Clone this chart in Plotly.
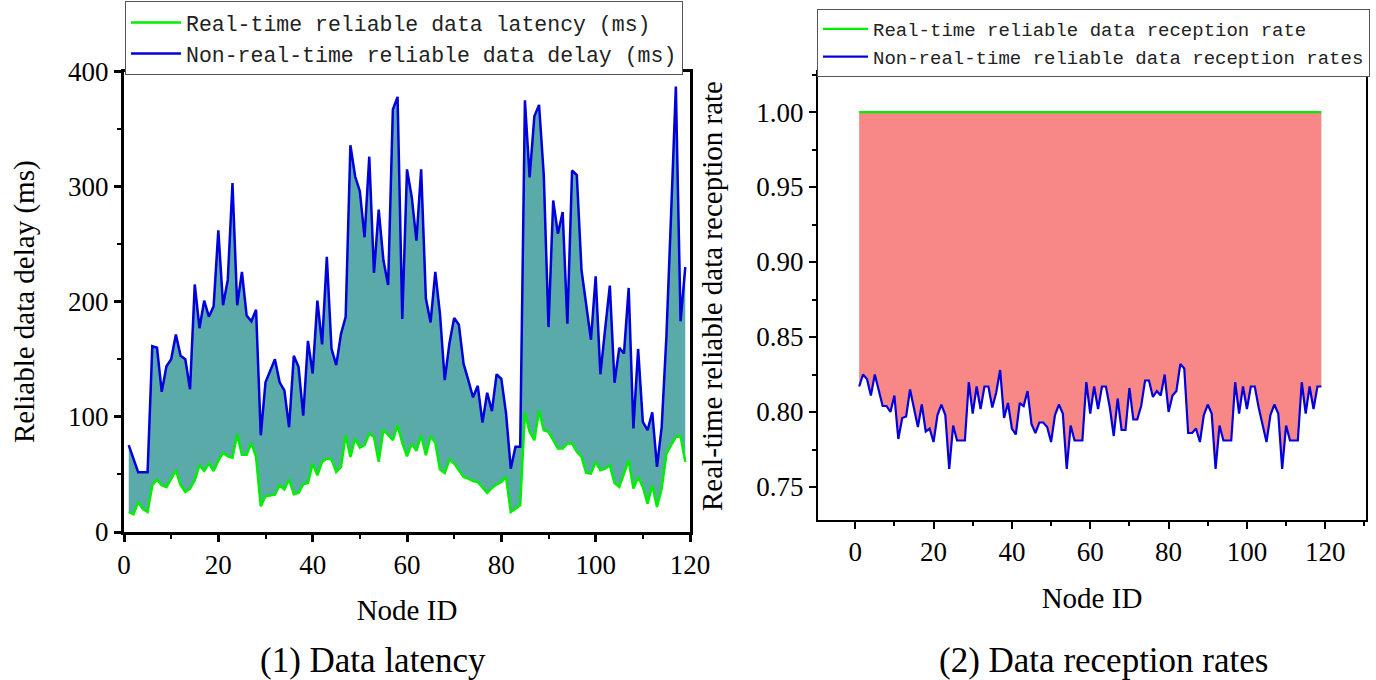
import plotly.graph_objects as go

# ---------------- data ----------------
node_ids = list(range(1, 120))

rt_latency = [17.4, 15.4, 26, 20, 17.4, 40.6, 45.5, 40.6, 39, 46,
              53.6, 40.6, 34.8, 37.7, 45, 58, 53, 59.4, 53, 62,
              68.7, 65.8, 64.6, 85, 67, 67, 77.4, 65, 22.3, 31,
              32, 32.5, 40.6, 37, 46, 32.8, 34, 41.4, 42.6, 59.4,
              49.3, 60.9, 63.8, 62.9, 52.2, 56.5, 84, 65.2, 81.2, 73.3,
              75.4, 85.5, 82.6, 60.9, 89, 84, 79.7, 92.8, 77.4, 65.8,
              76.8, 70.4, 84, 66.7, 83.2, 77.4, 54.2, 51.3, 62.9, 59.4,
              53.6, 47.8, 46.4, 44.3, 43.5, 39.1, 33.9, 38.3, 41.4, 43.5,
              47.8, 17.4, 20.3, 23.2, 104, 87, 79.7, 105.8, 88.4, 87,
              79.7, 72.5, 72.5, 76.8, 76.8, 69.6, 65.2, 51.3, 50.7, 60.9,
              53.6, 55, 58, 42.6, 39.1, 50.7, 62.3, 37.7, 47.8, 39.1,
              24.6, 40.6, 21.7, 37.7, 68, 75.4, 82.6, 83.2, 60.9]

nrt_delay = [75.4, 63.8, 52, 52, 52, 161.4, 160, 121.7, 144, 150,
             171.6, 153, 150, 124, 215, 177, 201, 187, 196, 262,
             197, 219, 303, 197, 226, 188, 183, 193, 84, 130,
             140.6, 150, 130, 123, 91, 153, 143.5, 101, 166, 137.7,
             201, 163, 239, 159, 145, 172, 187, 336, 309, 296,
             256, 326, 225, 280, 236, 214.5, 367, 378, 185, 315,
             291, 253, 315, 203, 182, 226, 189, 132, 164, 186,
             180, 146, 132, 117, 127, 95, 121, 105, 137, 133,
             103, 55, 74, 74, 375, 308, 361, 371, 310, 178,
             288, 259, 278, 181, 314, 310, 227.5, 197, 167, 222,
             137, 176, 214, 129.6, 160, 155, 212, 90, 159, 95.7,
             88.4, 104, 56.5, 91.3, 170, 277, 387, 183, 230]

rt_rate = [1.0] * 119

nrt_rate = [0.817, 0.825, 0.822, 0.811, 0.825, 0.814, 0.804, 0.804, 0.800, 0.811,
            0.782, 0.796, 0.797, 0.815, 0.802, 0.790, 0.805, 0.787, 0.789, 0.780,
            0.798, 0.805, 0.798, 0.762, 0.791, 0.781, 0.781, 0.781, 0.820, 0.799,
            0.817, 0.802, 0.817, 0.817, 0.803, 0.813, 0.828, 0.796, 0.806, 0.789,
            0.785, 0.806, 0.804, 0.814, 0.792, 0.786, 0.793, 0.793, 0.790, 0.780,
            0.798, 0.805, 0.799, 0.762, 0.791, 0.781, 0.781, 0.781, 0.820, 0.799,
            0.817, 0.802, 0.817, 0.817, 0.803, 0.784, 0.809, 0.788, 0.788, 0.816,
            0.795, 0.795, 0.804, 0.821, 0.821, 0.810, 0.814, 0.811, 0.825, 0.800,
            0.811, 0.814, 0.832, 0.829, 0.786, 0.786, 0.789, 0.780, 0.798, 0.805,
            0.799, 0.762, 0.791, 0.781, 0.781, 0.781, 0.820, 0.799, 0.817, 0.802,
            0.817, 0.817, 0.803, 0.792, 0.780, 0.798, 0.805, 0.799, 0.762, 0.791,
            0.781, 0.781, 0.781, 0.820, 0.799, 0.817, 0.802, 0.817, 0.817]

x_ticks = [0, 20, 40, 60, 80, 100, 120]

# ---------------- styles ----------------
W, H = 1376, 680
GREEN = "#00EE00"
BLUE = "#0000DD"
TEAL = "#5BAAAA"
SALMON = "#F88787"
SERIF = "Liberation Serif"
MONO = "Liberation Mono"

def px_x(p):
    return p / W

def px_y(p):
    return 1 - p / H

fig = go.Figure()

# ----- left subplot -----
fig.add_trace(go.Scatter(x=node_ids, y=rt_latency, mode="lines", line=dict(width=0, color=GREEN),
                         showlegend=False, hoverinfo="skip", xaxis="x", yaxis="y"))
fig.add_trace(go.Scatter(x=node_ids, y=nrt_delay, mode="lines", line=dict(width=0, color=BLUE),
                         fill="tonexty", fillcolor=TEAL, showlegend=False, hoverinfo="skip",
                         xaxis="x", yaxis="y"))
fig.add_trace(go.Scatter(x=node_ids, y=rt_latency, mode="lines", line=dict(width=2.5, color=GREEN),
                         name="Real-time reliable data latency (ms)", legend="legend",
                         xaxis="x", yaxis="y"))
fig.add_trace(go.Scatter(x=node_ids, y=nrt_delay, mode="lines", line=dict(width=2.5, color=BLUE),
                         name="Non-real-time reliable data delay (ms)", legend="legend",
                         xaxis="x", yaxis="y"))

# ----- right subplot -----
fig.add_trace(go.Scatter(x=node_ids, y=rt_rate, mode="lines", line=dict(width=0, color=GREEN),
                         showlegend=False, hoverinfo="skip", xaxis="x2", yaxis="y2"))
fig.add_trace(go.Scatter(x=node_ids, y=nrt_rate, mode="lines", line=dict(width=0, color=BLUE),
                         fill="tonexty", fillcolor=SALMON, showlegend=False, hoverinfo="skip",
                         xaxis="x2", yaxis="y2"))
fig.add_trace(go.Scatter(x=node_ids, y=rt_rate, mode="lines", line=dict(width=2.2, color=GREEN),
                         name="Real-time reliable data reception rate", legend="legend2",
                         xaxis="x2", yaxis="y2"))
fig.add_trace(go.Scatter(x=node_ids, y=nrt_rate, mode="lines", line=dict(width=2.2, color=BLUE),
                         name="Non-real-time reliable data reception rates", legend="legend2",
                         xaxis="x2", yaxis="y2"))

tickfont = dict(family=SERIF, size=27, color="black")
titlefont = dict(family=SERIF, size=29, color="black")

common = dict(showgrid=False, zeroline=False, automargin=False, tickfont=tickfont,
              ticks="outside", tickcolor="black", showline=True, linecolor="black", mirror=True)

fig.update_layout(
    template="none",
    width=W, height=H,
    margin=dict(l=0, r=0, t=0, b=0, autoexpand=False),
    paper_bgcolor="white", plot_bgcolor="white",
    showlegend=True,
    xaxis=dict(domain=[px_x(124), px_x(690)], range=[0, 120], anchor="y",
               tickmode="array", tickvals=x_ticks, ticklen=7, tickwidth=2.5, linewidth=3,
               minor=dict(dtick=10, tick0=0, ticks="outside", ticklen=4, tickwidth=2, tickcolor="black"),
               title=dict(text="Node ID", font=titlefont, standoff=21), **common),
    yaxis=dict(domain=[px_y(532), px_y(71.5)], range=[0, 400], anchor="x",
               dtick=100, tick0=0, ticklen=7, tickwidth=2.5, linewidth=3,
               minor=dict(dtick=50, tick0=0, ticks="outside", ticklen=4, tickwidth=2, tickcolor="black"),
               title=dict(text="Reliable data delay (ms)", font=titlefont, standoff=25), **common),
    xaxis2=dict(domain=[px_x(818), px_x(1366)], range=[-9.5, 130.4], anchor="y2",
                tickmode="array", tickvals=x_ticks, ticklen=7, tickwidth=2, linewidth=2,
                minor=dict(dtick=10, tick0=0, ticks="outside", ticklen=4, tickwidth=1.5, tickcolor="black"),
                title=dict(text="Node ID", font=titlefont, standoff=21), **common),
    yaxis2=dict(domain=[px_y(520), px_y(72)], range=[0.728, 1.0267], anchor="x2",
                dtick=0.05, tick0=0, tickformat=".2f", ticklen=7, tickwidth=2, linewidth=2,
                minor=dict(dtick=0.025, tick0=0, ticks="outside", ticklen=4, tickwidth=1.5, tickcolor="black"),
                title=dict(text="Real-time reliable data reception rate", font=titlefont, standoff=25),
                **common),
    legend=dict(x=px_x(125), y=px_y(1), xanchor="left", yanchor="top", traceorder="normal",
                bgcolor="white", bordercolor="#555", borderwidth=1,
                font=dict(family=MONO, size=21.5, color="#222"),
                itemwidth=50, tracegroupgap=0),
    legend2=dict(x=px_x(817), y=px_y(9), xanchor="left", yanchor="top", traceorder="normal",
                 bgcolor="white", bordercolor="#555", borderwidth=1,
                 font=dict(family=MONO, size=19, color="#222"),
                 itemwidth=45, tracegroupgap=0),
    annotations=[
        dict(text="(1) Data latency", x=px_x(373), y=px_y(660), xref="paper", yref="paper",
             xanchor="center", yanchor="middle", showarrow=False,
             font=dict(family=SERIF, size=35, color="black")),
        dict(text="(2) Data reception rates", x=px_x(1103), y=px_y(660), xref="paper", yref="paper",
             xanchor="center", yanchor="middle", showarrow=False,
             font=dict(family=SERIF, size=35, color="black")),
    ],
)

fig.write_html("out.html")
